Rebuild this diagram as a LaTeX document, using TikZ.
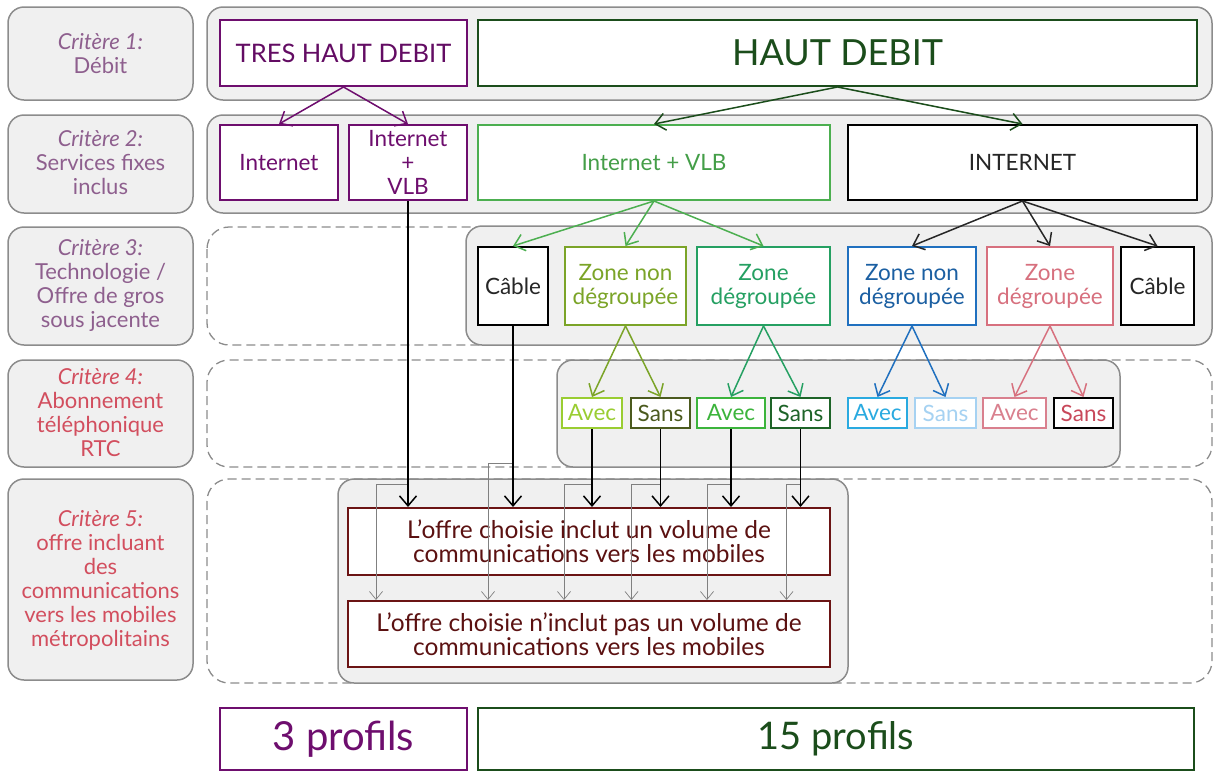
\documentclass[tikz,border=0pt]{standalone}
\usepackage{fontspec}
\setmainfont{Lato}
\usetikzlibrary{arrows.meta,calc}

\definecolor{critpurp}{HTML}{8E5F8E}
\definecolor{critred}{HTML}{D24E5E}
\definecolor{purp}{HTML}{6E0E6E}
\definecolor{dkgreen}{HTML}{1B4D1B}
\definecolor{vlbgreen}{HTML}{4CAF50}
\definecolor{olivegr}{HTML}{7BA428}
\definecolor{tealgr}{HTML}{25A062}
\definecolor{zblue}{HTML}{2070BF}
\definecolor{zred}{HTML}{D7707E}
\definecolor{avA}{HTML}{9ACD32}
\definecolor{saA}{HTML}{4B5A1E}
\definecolor{avB}{HTML}{3CB43C}
\definecolor{saB}{HTML}{1E6428}
\definecolor{avC}{HTML}{2AAAE0}
\definecolor{saC}{HTML}{A6D2F2}
\definecolor{avD}{HTML}{D9808E}
\definecolor{saD}{HTML}{C8485A}
\definecolor{offred}{HTML}{6B1414}
\definecolor{panelbg}{HTML}{F0F0F0}
\definecolor{panelline}{HTML}{8C8C8C}

\tikzset{
  critbox/.style={draw=panelline, fill=panelbg, line width=1.5pt, rounded corners=16pt},
  crittxt/.style={align=center, font=\fontsize{22}{24}\selectfont},
  panel/.style={draw=panelline, fill=panelbg, line width=1.5pt, rounded corners=16pt},
  dashpanel/.style={draw=panelline, line width=1.3pt, dash pattern=on 9pt off 5pt, rounded corners=22pt},
  box/.style={draw, fill=white, line width=2pt, align=center, inner sep=0pt,
    font=\fontsize{22.5}{24}\selectfont},
  arr/.style={line width=1.5pt, -{Straight Barb[length=10pt,width=17pt,line width=1.5pt]}},
  thinarr/.style={gray, line width=0.7pt, -{Straight Barb[length=8pt,width=13pt,line width=0.7pt]}}
}

\begin{document}
\begin{tikzpicture}[x=1pt,y=-1pt]
\useasboundingbox (0,0) rectangle (1215,772);

% criteres
\draw[critbox] (8,7) rectangle (193,100);
\draw[critbox] (8,115) rectangle (193,213);
\draw[critbox] (8,227) rectangle (193,345);
\draw[critbox] (8,360) rectangle (193,467);
\draw[critbox] (8,479) rectangle (193,680);
\node[crittxt,critpurp] (crit1) at (100.5,54) {\textit{Critère 1:}\\Débit};
\node[crittxt,critpurp] (crit2) at (100.5,163) {\itshape Critère 2:\\Services fixes\\inclus};
\node[crittxt,critpurp] (crit3) at (100.5,285) {\textit{Critère 3:}\\Technologie /\\Offre de gros\\sous jacente};
\node[crittxt,critred] (crit4) at (100.5,413) {\textit{Critère 4:}\\Abonnement\\téléphonique\\RTC};
\node[crittxt,critred] (crit5) at (100.5,580) {\textit{Critère 5:}\\offre incluant\\des\\communications\\vers les mobiles\\métropolitains};

% panneaux
\draw[panel] (207,7) rectangle (1212,100);
\draw[panel] (207,115) rectangle (1212,213);
\draw[dashpanel] (207,227) rectangle (1212,345);
\draw[panel] (466,226) rectangle (1212,345);
\draw[dashpanel] (207,360) rectangle (1212,467);
\draw[panel] (557,360) rectangle (1120,467);
\draw[dashpanel] (207,479) rectangle (1212,683);
\draw[panel] (338,479) rectangle (848,683);

% debit
\node[box,draw=purp,text=purp!90!black,minimum width=247pt,minimum height=66pt,font=\fontsize{25.5}{30}\selectfont] (thd) at (343.5,53) {TRES HAUT DEBIT};
\node[box,draw=dkgreen,text=dkgreen,minimum width=719pt,minimum height=66pt,font=\fontsize{36}{40}\selectfont] (hd) at (837.5,53) {HAUT DEBIT};

% services
\node[box,draw=purp,text=purp,minimum width=118pt,minimum height=75pt] (inet) at (279,162.5) {Internet};
\node[box,draw=purp,text=purp,minimum width=118pt,minimum height=75pt] (ivlb) at (408,162.5) {Internet\\+\\VLB};
\node[box,draw=vlbgreen,text=vlbgreen!90!black,minimum width=352pt,minimum height=75pt] (gvlb) at (654,162.5) {Internet + VLB};
\node[box,draw=black,text=black!85,minimum width=349pt,minimum height=75pt] (binet) at (1022.5,162.5) {INTERNET};

% technologie
\node[box,draw=black,text=black!85,minimum width=70pt,minimum height=78pt] (cabA) at (513,286) {Câble};
\node[box,draw=olivegr,text=olivegr,minimum width=121pt,minimum height=78pt] (zndA) at (625.5,286) {Zone non\\dégroupée};
\node[box,draw=tealgr,text=tealgr,minimum width=133pt,minimum height=78pt] (zdA) at (763.5,286) {Zone\\dégroupée};
\node[box,draw=zblue,text=zblue!85!black,minimum width=128pt,minimum height=78pt] (zndB) at (912,286) {Zone non\\dégroupée};
\node[box,draw=zred,text=zred,minimum width=126pt,minimum height=78pt] (zdB) at (1050,286) {Zone\\dégroupée};
\node[box,draw=black,text=black!85,minimum width=73pt,minimum height=78pt] (cabB) at (1157.5,286) {Câble};

% RTC
\node[box,draw=avA,text=avA,minimum width=60pt,minimum height=30pt] (avA) at (592,413) {Avec};
\node[box,draw=saA,text=saA,minimum width=59pt,minimum height=30pt] (saA) at (660.5,413) {Sans};
\node[box,draw=avB,text=avB,minimum width=68pt,minimum height=30pt] (avB) at (731,413) {Avec};
\node[box,draw=saB,text=saB,minimum width=59pt,minimum height=30pt] (saB) at (800.5,413) {Sans};
\node[box,draw=avC,text=avC,minimum width=59pt,minimum height=30pt] (avC) at (877.5,413) {Avec};
\node[box,draw=saC,text=saC,minimum width=61pt,minimum height=30pt] (saC) at (945.5,413) {Sans};
\node[box,draw=avD,text=avD,minimum width=63pt,minimum height=30pt] (avD) at (1014.5,413) {Avec};
\node[box,draw=black,text=saD,minimum width=59pt,minimum height=30pt] (saD) at (1083.5,413) {Sans};

% mobiles
\node[box,draw=offred,text=offred!85!black,minimum width=482pt,minimum height=67pt,font=\fontsize{24.5}{24}\selectfont] (offA) at (589,541.5) {L’offre choisie inclut un volume de\\communications vers les mobiles};
\node[box,draw=offred,text=offred!85!black,minimum width=482pt,minimum height=66pt,font=\fontsize{24.5}{24}\selectfont] (offB) at (589,634) {L’offre choisie n’inclut pas un volume de\\communications vers les mobiles};

% profils
\node[box,draw=purp,text=purp,minimum width=247pt,minimum height=62pt,font=\fontsize{40}{40}\selectfont] (pA) at (343.5,739) {3 profils};
\node[box,draw=dkgreen,text=dkgreen,minimum width=716pt,minimum height=62pt,font=\fontsize{38}{40}\selectfont] (pB) at (836,739) {15 profils};

% fleches debit -> services
\draw[arr,purp] (thd.south) -- (inet.north);
\draw[arr,purp] (thd.south) -- (ivlb.north);
\draw[arr,dkgreen] (hd.south) -- (gvlb.north);
\draw[arr,dkgreen] (hd.south) -- (binet.north);
% services -> technologie
\draw[arr,vlbgreen] (gvlb.south) -- (cabA.north);
\draw[arr,vlbgreen] (gvlb.south) -- (zndA.north);
\draw[arr,vlbgreen] (gvlb.south) -- (zdA.north);
\draw[arr,black!85] (binet.south) -- (zndB.north);
\draw[arr,black!85] (binet.south) -- (zdB.north);
\draw[arr,black!85] (binet.south) -- (cabB.north);
% technologie -> RTC
\draw[arr,olivegr] (zndA.south) -- (avA.north);
\draw[arr,olivegr] (zndA.south) -- (saA.north);
\draw[arr,tealgr] (zdA.south) -- (avB.north);
\draw[arr,tealgr] (zdA.south) -- (saB.north);
\draw[arr,zblue] (zndB.south) -- (avC.north);
\draw[arr,zblue] (zndB.south) -- (saC.north);
\draw[arr,zred] (zdB.south) -- (avD.north);
\draw[arr,zred] (zdB.south) -- (saD.north);

% vers les mobiles (fin)
\draw[thinarr] (ivlb.south |- 0,484) -| ($(offB.north -| ivlb.south)+(-32,0)$);
\draw[thinarr] (cabA.south |- 0,463) -| ($(offB.north -| cabA.south)+(-25,0)$);
\draw[thinarr] (avA.south |- 0,484) -| ($(offB.north -| avA.south)+(-28,0)$);
\draw[thinarr] (saA.south |- 0,484) -| ($(offB.north -| saA.south)+(-29,0)$);
\draw[thinarr] (avB.south |- 0,484) -| ($(offB.north -| avB.south)+(-24,0)$);
\draw[thinarr] (saB.south |- 0,484) -| ($(offB.north -| saB.south)+(-14,0)$);
% vers les mobiles
\draw[arr] (ivlb.south) -- (ivlb.south |- offA.north);
\draw[arr] (cabA.south) -- (cabA.south |- offA.north);
\draw[arr] (avA.south) -- (avA.south |- offA.north);
\draw[arr] (saA.south) -- (saA.south |- offA.north);
\draw[arr] (avB.south) -- (avB.south |- offA.north);
\draw[arr] (saB.south) -- (saB.south |- offA.north);
\end{tikzpicture}
\end{document}
